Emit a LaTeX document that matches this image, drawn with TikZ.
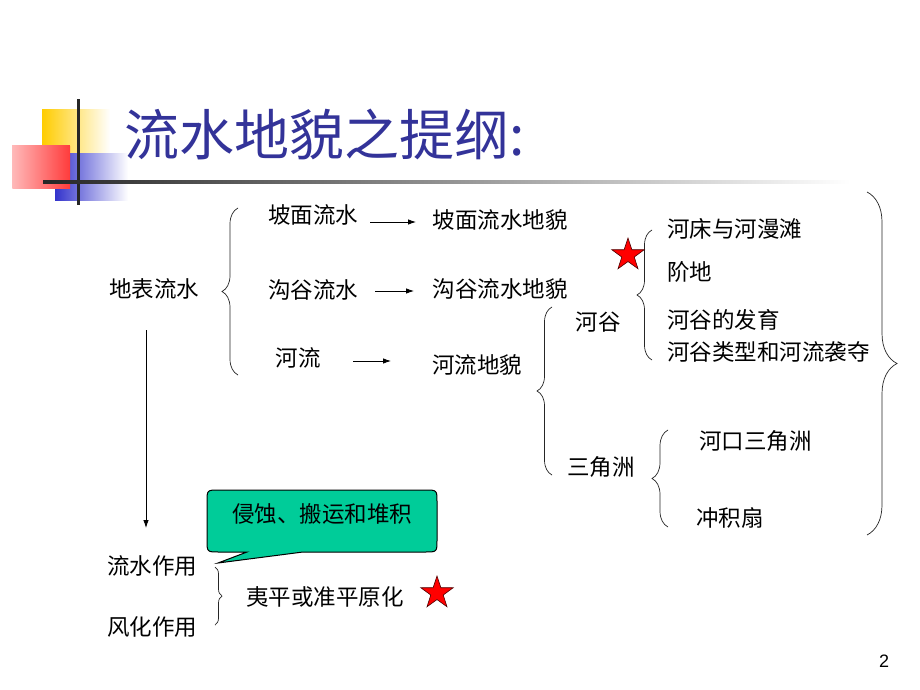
\documentclass[tikz,border=0pt]{standalone}
\usepackage{fontspec}
\setmainfont{Liberation Sans}
\newfontfamily\cjk{Noto Sans CJK SC}
\usetikzlibrary{shapes.geometric,decorations.pathreplacing,arrows.meta}
\definecolor{titleblue}{RGB}{51,51,153}
\definecolor{calloutfill}{RGB}{0,204,153}
\definecolor{sqyellow}{RGB}{255,204,0}
\definecolor{sqblue}{RGB}{51,51,204}
\definecolor{sqred}{RGB}{255,0,0}
\tikzset{
  txt/.style={inner sep=0pt, font=\cjk\fontsize{22.5}{24}\selectfont, text=black},
  arr/.style={line width=0.8pt, -{Latex[length=8pt,width=5.5pt]}},
  lbrace/.style={decorate, decoration={brace, amplitude=#1}, line width=0.7pt, draw=black!85},
  redstar/.style={star, star points=5, star point ratio=2.6, fill=red, draw=black!70!red, line width=0.6pt, minimum size=34pt, inner sep=0pt},
  callout/.style={fill=calloutfill, draw=black, line width=1pt}
}
\begin{document}
\begin{tikzpicture}[x=1pt,y=-1pt]
\useasboundingbox (0,0) rectangle (920,690);
\fill[white] (0,0) rectangle (920,690);

% decoration squares
\shade[left color=sqyellow, middle color=sqyellow!92!white, right color=white] (42,110) rectangle (110,153);
\shade[left color=sqblue, middle color=sqblue!85!white, right color=white] (55,153) rectangle (128,200);
\begin{scope}
  \clip (12,145) rectangle (70,188);
  \shade[rotate around={35:(41,166.5)}, left color=sqred!4!white, middle color=sqred!35!white, right color=sqred] (5,120) rectangle (77,213);
\end{scope}
\fill[black!85] (77,99) rectangle (80,205);
\shade[left color=black!85, middle color=black!35, right color=white] (43,180) rectangle (850,183.5);

% title
\node[anchor=west, inner sep=0pt, font=\cjk\fontsize{55}{58}\selectfont, text=titleblue] (title) at (124,134) {流水地貌之提纲:};

% main texts
\node[txt] (pmls) at (313,215) {坡面流水};
\node[txt] (pmdm) at (500,220) {坡面流水地貌};
\node[txt] (dbls) at (154,289) {地表流水};
\node[txt] (ggls) at (313,290) {沟谷流水};
\node[txt] (ggdm) at (500,289) {沟谷流水地貌};
\node[txt] (hl) at (298,358) {河流};
\node[txt] (hldm) at (477,365) {河流地貌};
\node[txt] (hg) at (598,322) {河谷};
\node[txt, anchor=west] (hc) at (667,229) {河床与河漫滩};
\node[txt, anchor=west] (jd) at (667,272) {阶地};
\node[txt, anchor=west] (fy) at (667,320) {河谷的发育};
\node[txt, anchor=west] (lx) at (667,352) {河谷类型和河流袭夺};
\node[txt] (sjz) at (601,467) {三角洲};
\node[txt, anchor=west] (hk) at (699,441) {河口三角洲};
\node[txt, anchor=west] (cjs) at (696,518) {冲积扇};
\node[txt] (lszy) at (152,566) {流水作用};
\node[txt] (fhzy) at (152,627) {风化作用};
\node[txt] (yp) at (325,597) {夷平或准平原化};

% arrows
\coordinate (a1s) at (370,222); \coordinate (a1e) at (416,222);
\coordinate (a2s) at (375,291); \coordinate (a2e) at (414,291);
\coordinate (a3s) at (353,361); \coordinate (a3e) at (391,361);
\coordinate (a4s) at (146,330); \coordinate (a4e) at (146,528);
\draw[arr] (a1s) -- (a1e);
\draw[arr] (a2s) -- (a2e);
\draw[arr] (a3s) -- (a3e);
\draw[arr] (a4s) -- (a4e);

% braces (left-pointing: drawn bottom to top)
\coordinate (b1b) at (238,375); \coordinate (b1t) at (238,208);
\draw[lbrace=16pt] (b1b) -- (b1t);
\coordinate (b2b) at (552,475); \coordinate (b2t) at (552,307);
\draw[lbrace=15pt] (b2b) -- (b2t);
\coordinate (b3b) at (652,360); \coordinate (b3t) at (652,230);
\draw[lbrace=15pt] (b3b) -- (b3t);
\coordinate (b4b) at (668,527); \coordinate (b4t) at (668,430);
\draw[lbrace=16pt] (b4b) -- (b4t);
% right-pointing braces (top to bottom)
\coordinate (b5t) at (867,192); \coordinate (b5b) at (867,535);
\draw[lbrace=30pt] (b5t) -- (b5b);
\coordinate (b6t) at (215,567); \coordinate (b6b) at (215,625);
\draw[lbrace=7pt] (b6t) -- (b6b);

% stars
\node[redstar] (star1) at (628,255) {};
\node[redstar] (star2) at (437,593) {};

% callout
\path[callout] (207,502) -- (207,540) .. controls (207,552) .. (219,552) -- (247,552) -- (218,563) -- (303,552) -- (425,552) .. controls (437,552) .. (437,540) -- (437,502) .. controls (437,490) .. (425,490) -- (219,490) .. controls (207,490) .. (207,502) -- cycle;
\node[txt] (qs) at (322,514) {侵蚀、搬运和堆积};

% page number
\node[inner sep=0pt, font=\fontsize{18}{20}\selectfont] (pg) at (884,661) {2};
\end{tikzpicture}
\end{document}
